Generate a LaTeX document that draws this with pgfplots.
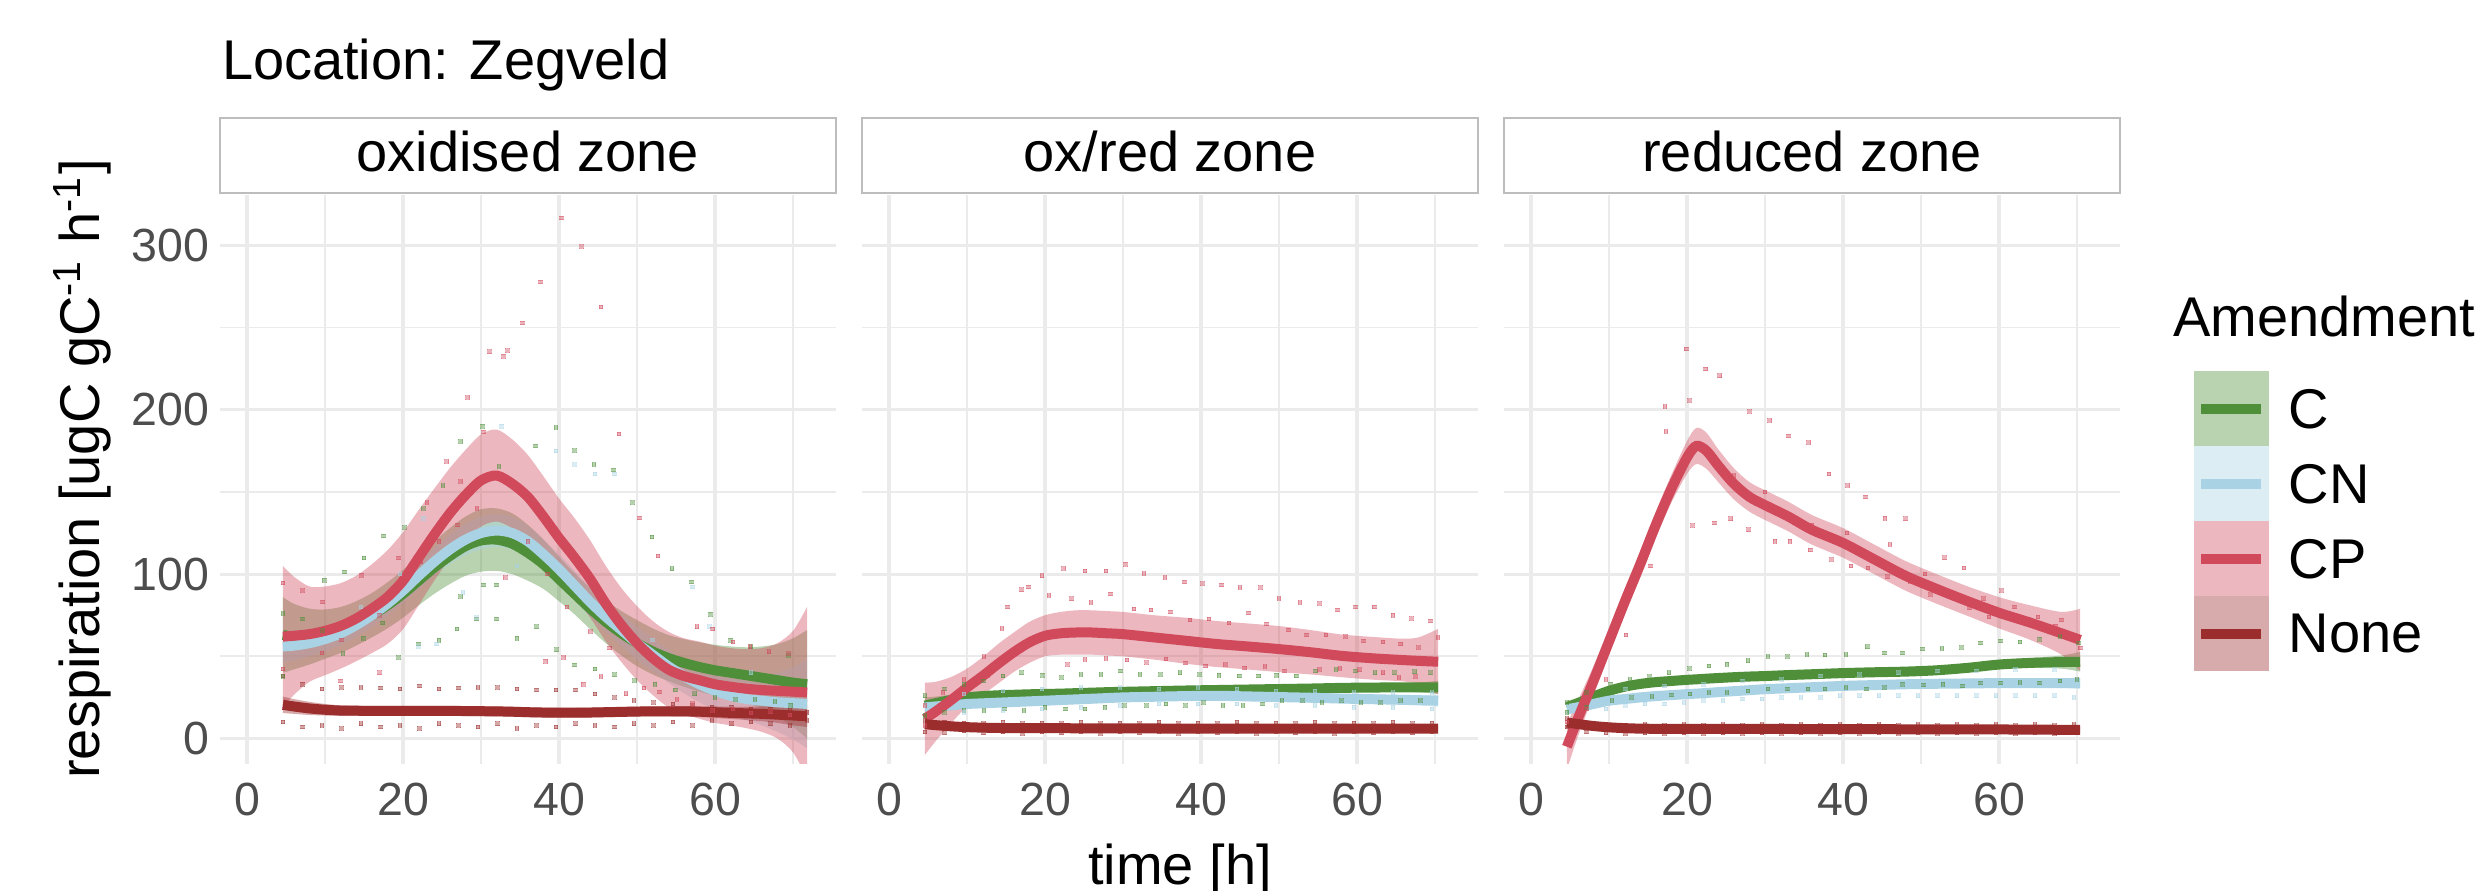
\documentclass[border=0pt]{standalone}
\usepackage{pgfplots}
\pgfplotsset{compat=1.18}
\usepackage{pgfplotstable}
\usepgfplotslibrary{fillbetween}
\usepackage{fontspec}
\setmainfont{Liberation Sans}
\definecolor{cC}{HTML}{4F8F3A}
\definecolor{cCN}{HTML}{A9D3E4}
\definecolor{cCP}{HTML}{D04A5C}
\definecolor{cNone}{HTML}{9B2D2D}
\definecolor{gridc}{HTML}{EBEBEB}
\definecolor{tickc}{HTML}{4D4D4D}
\definecolor{stripc}{HTML}{BDBDBD}
\newcommand{\ticksz}{\fontsize{9.3pt}{11pt}\selectfont}
\newcommand{\labsz}{\fontsize{11.2pt}{13pt}\selectfont}

\pgfplotstableread{
x Cm Clo Chi CNm CNlo CNhi CPm CPlo CPhi Nm Nlo Nhi
4.6 63 40 86 56 46 66 62 19 105 20.5 15.5 25.5
6 62 42 82 56.5 47.5 65.5 62.5 26.5 98.5 19.5 15 24
8 62 45 79 58 50 66 63.5 34.5 92.5 18.3 14.3 22.3
10 63.5 48.5 78.5 60.5 53 68 65.5 38.5 92.5 17.5 14 21
12 66 52 80 64 57 71 68.5 42.5 94.5 17 13.8 20.2
14 70 56.5 83.5 69 62 76 73 47 99 16.9 13.8 20
16 75 61.5 88.5 75 68 82 79 52 106 16.8 13.8 19.8
18 81 67 95 82 75 89 86 57.5 114.5 16.8 13.8 19.8
20 88 73.5 102.5 90 82.5 97.5 96 66.5 125.5 16.8 13.8 19.8
22 96 81 111 99 91 107 110 81 139 16.8 13.8 19.8
24 104 88 120 107.5 99 116 124 96 152 16.8 13.8 19.8
26 111 94 128 115 106 124 137 109.5 164.5 16.8 13.8 19.8
28 117 99 135 121 111.5 130.5 148 120.5 175.5 16.7 13.7 19.7
30 120.5 101.5 139.5 125 115 135 157 129 185 16.6 13.6 19.6
32 121 102 140 126.5 116.5 136.5 160 132 188 16.5 13.5 19.5
34 118.5 100 137 125 115 135 155 128 182 16.3 13.3 19.3
36 113 96 130 120 110.5 129.5 147 121.5 172.5 16 13 19
38 106 91 121 112 103 121 135 110.5 159.5 15.8 12.8 18.8
40 97 83.5 110.5 103 94 112 122 98 146 15.7 12.7 18.7
42 88 75.5 100.5 93 84 102 110 86 134 15.7 12.7 18.7
44 79 66.5 91.5 83 74 92 97 73.5 120.5 15.8 12.8 18.8
46 71 58 84 74 65 83 82 59 105 16 13 19
48 64 50.5 77.5 66 56.5 75.5 69 46.5 91.5 16.2 13.2 19.2
50 58 44 72 58 48 68 58 35.5 80.5 16.4 13.4 19.4
52 53 39 67 51 41 61 49 26.5 71.5 16.5 13.5 19.5
54 49 35 63 44 34 54 42 19 65 16.5 13.4 19.6
56 46 31.5 60.5 38 27.5 48.5 38 15 61 16.5 13.3 19.7
58 43.5 28.5 58.5 33 22 44 35.5 12 59 16.3 13 19.6
60 41.5 26 57 29 17.5 40.5 33 9.5 56.5 16 12.5 19.5
62 40 24 56 26 14 38 31.5 8 55 15.6 11.9 19.3
64 38.5 21.5 55.5 24 11 37 30.3 6.3 54.3 15.3 11.3 19.3
66 37 18 56 23 8 38 29.5 4 55 15 10.5 19.5
68 35.5 13.5 57.5 22 4 40 29 0 58 14.5 9.5 19.5
70 34 7 61 21.5 -0.5 43.5 28.5 -8.5 65.5 14 8 20
71.8 33 0 66 21 -6 48 28 -24 80 13.5 7 20
}\Pone

\pgfplotstableread{
x Cm Clo Chi CNm CNlo CNhi CPm CPlo CPhi Nm Nlo Nhi
4.6 20 15 25 18.9 14.9 22.9 12 -10 34 8.7 6.7 10.7
6 21.5 17.5 25.5 19.5 16 23 16.5 -1.5 34.5 8.1 6.4 9.8
8 23.5 20.3 26.7 20.2 17.2 23.2 23.5 9.5 37.5 7.4 5.9 8.9
10 25 22.3 27.7 21 18.2 23.8 31 19.5 42.5 6.9 5.6 8.2
12 25.8 23.5 28.1 21.4 18.6 24.2 38 26.5 49.5 6.6 5.4 7.8
14 26.3 24 28.6 21.8 19 24.6 45.5 33.5 57.5 6.4 5.2 7.6
16 26.6 24.3 28.9 22.2 19.4 25 52.5 40.5 64.5 6.3 5.1 7.5
18 26.9 24.6 29.2 22.6 19.8 25.4 58.5 46 71 6.3 5.1 7.5
20 27.1 24.8 29.4 23 20.2 25.8 62.5 50 75 6.3 5.1 7.5
22 27.3 25 29.6 23.4 20.6 26.2 64 51 77 6.3 5.1 7.5
24 27.6 25.3 29.9 23.8 21 26.6 64.5 51 78 6.2 5 7.4
26 27.9 25.6 30.2 24.2 21.4 27 64.5 51 78 6.2 5 7.4
28 28.2 25.9 30.5 24.6 21.8 27.4 64 50.5 77.5 6.2 5 7.4
30 28.4 26.1 30.7 25 22.2 27.8 63.5 50 77 6.1 4.9 7.3
34 28.8 26.5 31.1 25.4 22.6 28.2 61.5 48 75 6.1 4.9 7.3
38 29.2 26.9 31.5 25.8 23 28.6 59.5 45.5 73.5 6 4.8 7.2
42 29.5 27.2 31.8 26 23.2 28.8 57.5 43.5 71.5 6 4.8 7.2
46 29.8 27.5 32.1 25.6 22.8 28.4 56 42 70 6 4.8 7.2
50 30.1 27.8 32.4 25.2 22.4 28 54.4 40.4 68.4 6 4.8 7.2
54 30.4 28.1 32.7 24.8 22 27.6 52.5 39 66 6 4.8 7.2
58 30.8 28.5 33.1 24.3 21.5 27.1 50.3 37.3 63.3 6 4.8 7.2
62 31 28.7 33.3 23.9 21.1 26.7 48.8 35.8 61.8 6 4.8 7.2
66 31.1 28.5 33.7 23.5 20.5 26.5 47.7 34.7 60.7 6 4.7 7.3
68 31.1 28.1 34.1 23.3 20.1 26.5 47.2 32.7 61.7 6 4.6 7.4
70.4 31.1 27.1 35.1 23 19.4 26.6 46.7 26.7 66.7 6 4.4 7.6
}\Ptwo

\pgfplotstableread{
x Cm Clo Chi CNm CNlo CNhi CPm CPlo CPhi Nm Nlo Nhi
4.6 18.9 14.9 22.9 17.8 14.3 21.3 -5 -19 9 9.7 7.7 11.7
6 21.5 18.2 24.8 19 16 22 12 1 23 8.8 7.1 10.5
8 25.5 22.7 28.3 21 18.3 23.7 35 26 44 7.6 6.2 9
10 29 26.5 31.5 23 20.5 25.5 59 51 67 6.8 5.5 8.1
12 31.5 29 34 24 21.5 26.5 83 75 91 6.3 5.1 7.5
14 33.2 30.7 35.7 25 22.5 27.5 106 98 114 6 4.8 7.2
16 34.3 31.8 36.8 25.8 23.3 28.3 130 122 138 5.9 4.7 7.1
18 35 32.5 37.5 26.4 23.9 28.9 152 143.5 160.5 5.9 4.7 7.1
20 35.7 33.2 38.2 27 24.5 29.5 171 161 181 5.9 4.7 7.1
21.2 36 33.5 38.5 27.3 24.8 29.8 178 167 189 5.9 4.7 7.1
22.5 36.4 33.9 38.9 27.7 25.2 30.2 175 164 186 5.9 4.7 7.1
24 36.8 34.3 39.3 28.2 25.7 30.7 166 156 176 5.9 4.7 7.1
26 37.3 34.8 39.8 28.8 26.3 31.3 155 145.5 164.5 5.9 4.7 7.1
28 37.7 35.2 40.2 29.4 26.9 31.9 147 138 156 5.8 4.6 7
30 38 35.5 40.5 30 27.5 32.5 142 133 151 5.8 4.6 7
33 38.6 36.1 41.1 30.6 28.1 33.1 135 126 144 5.8 4.6 7
36 39.1 36.6 41.6 31.2 28.7 33.7 127 118 136 5.7 4.5 6.9
40 39.8 37.3 42.3 32 29.5 34.5 119 110 128 5.7 4.5 6.9
44 40.3 37.8 42.8 32.5 30 35 109 100 118 5.7 4.5 6.9
48 40.7 38.2 43.2 33 30.5 35.5 99 90 108 5.6 4.4 6.8
52 41.5 39 44 33.3 30.8 35.8 91 82 100 5.6 4.4 6.8
56 43 40.5 45.5 33.5 31 36 83.5 74.5 92.5 5.5 4.3 6.7
60 45 42.5 47.5 33.7 31.2 36.2 76.5 67 86 5.5 4.3 6.7
64 46 43 49 33.7 31 36.4 70.5 60 81 5.4 4.1 6.7
68 46.5 42.5 50.5 33.7 30.7 36.7 64 51 77 5.3 3.9 6.7
70.4 46.7 40.7 52.7 33.7 30.2 37.2 60 41 79 5.3 3.7 6.9
}\Pthree

\newcommand{\ribbon}[5]{%
  \addplot[draw=none, smooth, name path=#5lo, forget plot] table[x=x,y=#2]{#1};
  \addplot[draw=none, smooth, name path=#5hi, forget plot] table[x=x,y=#3]{#1};
  \addplot[fill=#4, fill opacity=0.4, draw=none, forget plot] fill between[of=#5lo and #5hi];
}
\newcommand{\smline}[3]{%
  \addplot[#3, line width=2pt, smooth, forget plot] table[x=x,y=#2]{#1};
}
\newcommand{\allsmooth}[2]{%
  \ribbon{#1}{Clo}{Chi}{cC}{#2c}
  \smline{#1}{Cm}{cC}
  \ribbon{#1}{CNlo}{CNhi}{cCN}{#2n}
  \smline{#1}{CNm}{cCN}
  \ribbon{#1}{CPlo}{CPhi}{cCP}{#2p}
  \smline{#1}{CPm}{cCP}
  \ribbon{#1}{Nlo}{Nhi}{cNone}{#2x}
  \smline{#1}{Nm}{cNone}
}
\newcommand{\keyimg}[1]{\addlegendimage{legend image code/.code={%
  \path[draw=none, fill=#1, fill opacity=0.4] (0pt,-7.5pt) rectangle (15pt,7.5pt);
  \path[draw=#1, line width=2pt, fill=none] (1.5pt,0pt)--(13.5pt,0pt);}}}

\pgfplotsset{
  myscatter/.style={only marks, mark=square*, mark size=0.36pt, forget plot, color=#1,
    mark options={draw=#1, fill=#1, line width=0pt, opacity=0.42}},
  panel/.style={
    scale only axis, width=123.2pt, height=113.8pt,
    xmin=-3.46, xmax=75.5, ymin=-15.5, ymax=330.7,
    axis line style={draw=none},
    major tick length=0pt, minor tick length=0pt,
    tick style={draw=none},
    xtick={0,20,40,60}, minor xtick={10,30,50,70},
    ytick={0,100,200,300}, minor ytick={50,150,250},
    grid=both,
    major grid style={line width=0.65pt, color=gridc},
    minor grid style={line width=0.35pt, color=gridc},
    /pgf/number format/assume math mode=true,
    xticklabel style={font=\ticksz, text=tickc, inner sep=0pt, anchor=north, yshift=-3.6pt},
    yticklabel style={font=\ticksz, text=tickc, inner sep=0pt, anchor=east, xshift=-2pt},
    anchor=south west,
  },
}

\begin{document}
\begin{tikzpicture}

% ---------- panel 1 ----------
\begin{axis}[panel, at={(44pt,25.4pt)}]
\addplot[myscatter=cNone] coordinates {(4.6,10)(7.1,7)(9.6,8)(12.1,6)(14.6,9)(17.1,7)(19.6,8)(22.1,6)(24.6,9)(27.1,8)(29.6,7)(32.1,9)(34.6,6)(37.1,8)(39.6,7)(42.1,9)(44.6,8)(47.1,7)(49.6,9)(52.1,8)(54.6,10)(57.1,8)(59.6,11)(62.1,9)(64.6,10)(67.1,9)(69.6,8)(71.8,11)
(4.6,38)(7.1,33)(9.6,30)(12.1,31)(14.6,31)(17.1,30.7)(19.6,30)(22.1,32)(24.6,30)(27.1,30.7)(29.6,31)(32.1,31)(34.6,30)(37.1,29.5)(39.6,29.5)(42.1,29.5)(44.6,27)(47.1,25)(49.6,23)(52.1,22)(54.6,21)(57.1,20)(59.6,19)(62.1,19)(64.6,18)(67.1,18)(69.6,17)(71.8,16)};
\addplot[myscatter=cC] coordinates {(30.2,190)(39.6,189.3)(42,175.3)(44.5,166.7)(47,163.3)(49.4,143.5)(51.9,122.6)(54.5,103.3)(57,95.3)(59.4,75.6)(62,59.8)(64.6,55.8)(69.4,50.5)(27.4,180.7)(37,178)(32.3,165.6)(17.5,123.3)(15,109.8)(12.5,101.2)(9.9,96.3)(20.2,128.4)(22.6,140)(25.1,154)(4.6,76)(4.6,37.7)(7.1,72.6)(9.7,65.6)(12.3,51.6)(14.9,61)(17.4,70.2)(19.4,49.3)(22,57.4)(24.6,59.8)(26.9,66.7)(29.4,72.6)(32,72.6)(32,93.5)(30.3,93.5)(27.4,86.5)(34.6,61)(37.1,68)(39.7,54)(42,44.7)(44.6,42.3)(47.1,38.8)(49.7,35.3)(52.3,33)(54.9,29.5)(57.4,27.2)(60,24.9)(62.6,23.7)(65.1,23.7)(67.7,22.6)(69.7,20.2)};
\addplot[myscatter=cCN] coordinates {(32.6,190)(39.6,175)(42,166.7)(44.6,161)(47.1,161)(57.1,92.3)(22.6,134)(27.7,88.8)(29.4,73.7)(22,56)(24.3,57.4)(59.3,68)(9.6,60)(14.6,80)(19.6,100)(34.6,105)(52,60)(64.6,40)};
\addplot[myscatter=cCP] coordinates {(40.3,316.7)(42.9,299.3)(37.6,277.7)(45.4,262.6)(35.3,252.8)(31.1,235.3)(33.4,236)(32.9,232.6)(28.3,207.4)(47.7,185.3)(30.3,186.5)(25.6,168.6)(50.3,134.2)(52.7,111)(57.7,68)(59.7,66.7)(62.3,58.6)(64.5,55.8)(66.9,52.8)(69.4,51.6)(4.6,94.7)(4.6,42.3)(7.1,90)(9.7,83)(14.7,99.3)(19.4,109.8)(22.3,107.4)(23.1,143.5)(27.4,156.3)(34.9,150.5)(33.1,98)(38.3,47)(40.6,49.3)(43.1,33)(45.4,37.7)(48.6,27.2)(50.9,30.7)(52.9,28.4)(55.1,23.7)(57.1,21.4)(59.7,17.2)(62.3,17.9)(64.6,15.6)(67.1,16.3)(69.6,14.4)(12.1,60)(17,75)(20,95)(24.6,120)(27,130)(29.5,140)(36,120)(38.5,100)(41,80)(44,65)(46.5,55)(12,35)(17,40)(9.6,52)};
\allsmooth{\Pone}{pa}
\end{axis}

% ---------- panel 2 ----------
\begin{axis}[panel, at={(172.4pt,25.4pt)}, yticklabels={}]
\addplot[myscatter=cNone] coordinates {(4.6,4)(7.1,3.5)(9.6,4.5)(12.1,3.5)(14.6,4)(17.1,3)(19.6,4)(22.1,3.5)(24.6,4)(27.1,3)(29.6,4)(32.1,3.5)(34.6,4)(37.1,3)(39.6,4)(42.1,3.5)(44.6,4)(47.1,3)(49.6,4)(52.1,3.5)(54.6,4)(57.1,3)(59.6,4)(62.1,3.5)(64.6,4)(67.1,3.5)(69.6,4)
(4.6,11)(7.1,10)(9.6,9.5)(12.1,9)(14.6,10)(17.1,9)(19.6,9.5)(22.1,9)(24.6,10)(27.1,9)(29.6,9.5)(32.1,9)(34.6,10)(37.1,9)(39.6,9.5)(42.1,9)(44.6,10)(47.1,9)(49.6,9.5)(52.1,9)(54.6,10)(57.1,9)(59.6,9.5)(62.1,9)(64.6,10)(67.1,9)(69.6,9.5)};
\addplot[myscatter=cC] coordinates {(17,40)(19.7,38.5)(22.1,37)(24.6,39)(27.2,39)(29.7,41)(32.2,39)(34.8,39)(37.3,40)(39.8,39)(42.3,38.5)(44.9,38)(47.4,38)(49.7,38.5)(52.2,38)(54.7,41)(57.3,42)(59.8,41)(62.3,40)(64.8,40)(67.4,40.6)(69.4,40)(7.1,30)(9.6,33)(12.1,35)(14.6,38)(4.6,26)
(12.2,17)(14.8,18)(17.3,17)(20,19)(22.6,18)(25.1,18)(27.7,19)(30.2,20)(33,20)(35.5,21)(38,20)(40.3,22)(42.8,20)(45.4,20)(47.9,21)(50.4,23)(53,23)(55.5,22)(58,23)(60.5,22)(63,22)(65.6,23)(68.1,23)(4.6,14)(7.1,16)(9.6,17)};
\addplot[myscatter=cCN] coordinates {(9.6,27)(14.6,29)(19.6,30)(24.6,31)(29.6,31)(34.6,30)(39.6,31)(44.6,30)(49.6,29)(54.6,29)(59.6,28)(64.6,28)(69.6,28)(9.6,16)(14.6,17)(19.6,18)(24.6,19)(29.6,20)(34.6,21)(39.6,21)(44.6,21)(49.6,20)(54.6,20)(59.6,19)(64.6,19)(69.6,18)};
\addplot[myscatter=cCP] coordinates {(19.6,99)(22.4,103.4)(25.1,102)(27.8,102)(30.3,106)(32.7,100.4)(35.4,98)(37.9,95.3)(40.2,94.3)(42.6,93.3)(45,91.9)(47.6,91.9)(50,85.2)(52.7,82.8)(55.2,82.2)(57.5,78.3)(59.8,80)(62.2,80)(64.6,75)(67,73)(69.4,71.6)(70.4,61.5)(17,90.5)(17.9,92.3)(15.2,80)(14.5,67)(20.5,87)(23.4,85)(25.9,82.8)(28.4,87.8)(31.4,78.7)(33.6,78.3)(36.1,77)(38.6,72.2)(41,72.6)(43.6,70.2)(46.1,76.3)(48.4,69.6)(51.2,66)(53.5,62.9)(56,62.9)(58.5,62)(60.8,59.4)(63.3,58.8)(65.6,57.4)(67.9,55.4)(22.9,45)(25.1,48)(27.8,48.7)(30.5,47.7)(33,46.2)(35.5,48.3)(38,46)(40.6,44)(43.1,45)(45.6,43)(48.2,43.8)(50.7,41)(55.2,42)(57.8,42.6)(60.3,41.8)(63.3,40)(65.4,37)(67.5,37.7)(12.2,50)(9.6,36)(6.9,28)(12.7,38.5)(4.6,20)(4.6,8)};
\allsmooth{\Ptwo}{pb}
\end{axis}

% ---------- panel 3 ----------
\begin{axis}[panel, at={(300.8pt,25.4pt)}, yticklabels={},
  legend style={at={(1.1185,0.6924)}, anchor=north west, draw=none, fill=none,
    inner sep=0pt, row sep=0pt, /tikz/column sep=4pt, font=\labsz,
    nodes={inner sep=0pt, text depth=0pt}},
  legend cell align=left]
\keyimg{cC}
\addlegendentry{C}
\keyimg{cCN}
\addlegendentry{CN}
\keyimg{cCP}
\addlegendentry{CP}
\keyimg{cNone}
\addlegendentry{None}
\addplot[myscatter=cNone] coordinates {(4.6,12)(7.1,9)(9.6,8.5)(12.1,8)(14.6,8.5)(17.1,8)(19.6,8.5)(22.1,8)(24.6,8.5)(27.1,8)(29.6,8.5)(32.1,8)(34.6,8.5)(37.1,8)(39.6,8.5)(42.1,8)(44.6,8.5)(47.1,8)(49.6,8.5)(52.1,8)(54.6,8.5)(57.1,8)(59.6,8.5)(62.1,8)(64.6,8.5)(67.1,8)(69.6,8.5)
(4.6,7)(7.1,4)(9.6,3.5)(12.1,3)(14.6,3.5)(17.1,3)(19.6,3.5)(22.1,3)(24.6,3.5)(27.1,3)(29.6,3.5)(32.1,3)(34.6,3.5)(37.1,3)(39.6,3.5)(42.1,3)(44.6,3.5)(47.1,3)(49.6,3.5)(52.1,3)(54.6,3.5)(57.1,3)(59.6,3.5)(62.1,3)(64.6,3.5)(67.1,3)(69.6,3.5)};
\addplot[myscatter=cC] coordinates {(12.7,36)(15.2,37.7)(17.7,40)(20.3,42.6)(22.8,44.2)(25.1,45.2)(27.8,47.3)(30.4,49.9)(32.9,49.9)(35.4,51)(37.7,50.7)(40.4,51)(43.1,55.8)(45.3,52)(47.6,52)(50.2,54.4)(52.7,54.8)(55.2,55.4)(57.6,58)(60.2,59.4)(62.7,58.8)(65.2,60.4)(67.8,62)(70.2,58)(4.6,22)(7.1,28)(10.2,33)
(10.4,23)(12.9,25)(15.5,25.6)(18,26.4)(20.4,27)(22.8,28)(25.1,28)(27.8,29)(30.4,30)(32.9,30)(35.5,30)(37.7,30)(40.4,31)(43,30)(45.3,31)(47.6,33)(50.3,32.5)(52.8,33)(55.3,32)(57.6,33.7)(60.2,33.7)(62.7,34)(65.2,33.7)(67.8,35)(70,36)(4.6,16)(7.1,19)};
\addplot[myscatter=cCN] coordinates {(9.6,18)(12.1,20)(14.6,21)(17.1,21)(19.6,22)(22.1,23)(24.6,23)(27.1,24)(29.6,24)(32.1,25)(34.6,25)(37.1,25)(39.6,26)(42.1,26)(44.6,26)(47.1,26)(49.6,26)(52.1,26)(54.6,26)(57.1,26)(59.6,26)(62.1,26)(64.6,26)(67.1,26)(69.6,25)(12.1,30)(17.1,32)(22.1,33)(27.1,35)(32.1,36)(37.1,38)(42.1,39)(47.1,40)(52.1,41)(57.1,41)(62.1,42)(67.1,42)};
\addplot[myscatter=cCP] coordinates {(19.9,237)(22.4,224.7)(24.2,220.7)(17.2,202)(20.3,205.7)(17.3,186.7)(28,199)(30.6,193.5)(33,184)(35.6,180)(38.2,160.9)(40.6,154)(42.9,147)(45.4,134)(48,133.7)(53,110)(55.5,103.8)(60.3,90)(20.7,129.6)(23.5,131)(25.6,133.7)(27.9,127)(31.3,120)(33.2,120)(35.8,114.7)(38.5,109)(41,105)(43.2,103.8)(45.7,98.4)(48.6,95.6)(51.2,87.5)(56.2,79.3)(58.7,74)(63.8,72.5)(67.2,68.5)(69.7,63)(15.3,105)(12.2,63)(9.6,36)(4.6,10)(7.1,18)(50.5,100)(58,85)(62,80)(65,74)(68,72)(70.4,55)(30,150)(26,160)(36,130)(46,118)(40.5,125)};
\allsmooth{\Pthree}{pc}
\end{axis}

% ---------- strips and texts ----------
\draw[stripc, line width=0.4pt, fill=white] (44pt,139.6pt) rectangle (167.2pt,154.6pt);
\draw[stripc, line width=0.4pt, fill=white] (172.4pt,139.6pt) rectangle (295.6pt,154.6pt);
\draw[stripc, line width=0.4pt, fill=white] (300.8pt,139.6pt) rectangle (424pt,154.6pt);
\node[font=\labsz, anchor=base, inner sep=0pt] at (105.6pt,143.8pt) {oxidised zone};
\node[font=\labsz, anchor=base, inner sep=0pt] at (234pt,143.8pt) {ox/red zone};
\node[font=\labsz, anchor=base, inner sep=0pt] at (362.4pt,143.8pt) {reduced zone};
\node[font=\labsz, anchor=base west, inner sep=0pt] at (44.2pt,162.3pt) {Location: Zegveld};
\node[font=\labsz, anchor=base, inner sep=0pt] at (236pt,1.2pt) {time [h]};
\node[font=\labsz, anchor=base, inner sep=0pt, rotate=90] at (20pt,84.4pt) {respiration [ugC gC\textsuperscript{-1} h\textsuperscript{-1}]};
\node[font=\labsz, anchor=base west, inner sep=0pt] at (434.4pt,110.8pt) {Amendment};
\pgfresetboundingbox
\useasboundingbox (0,0) rectangle (495.8pt,178.2pt);
\end{tikzpicture}
\end{document}
